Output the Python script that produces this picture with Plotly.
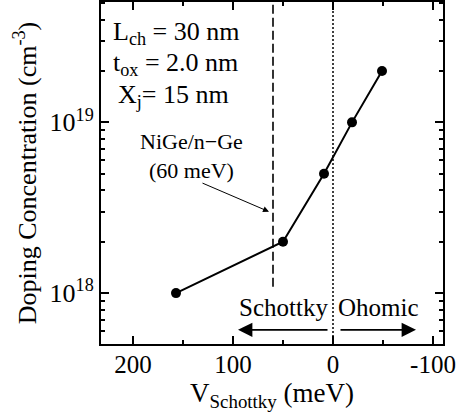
import numpy as np
import plotly.graph_objects as go

# ---- data ----
v_schottky = [157, 50, 9, -19, -49]           # meV
doping = [1e18, 2e18, 5e18, 1e19, 2e19]        # cm^-3
nige_barrier = 60                              # meV (dashed reference line)
nige_line_y = [1.09e18, 5.1e19]
ohmic_boundary = 0                             # meV (dotted line)
x_major_ticks = [200, 100, 0, -100]
x_minor_ticks = [150, 50, -50]
y_major_ticks = [1e18, 1e19]
y_major_text = ["10<sup>18</sup>", "10<sup>19</sup>"]
y_minor_ticks = [float(m) * 10.0**e for e in (17, 18, 19) for m in range(2, 10)]
param_lines = ["L<sub>ch</sub> = 30 nm", "t<sub>ox</sub> = 2.0 nm", "X<sub>j</sub>= 15 nm"]

FONT = "Liberation Serif"
fs = 25

fig = go.Figure()

# dashed NiGe line
fig.add_trace(go.Scatter(x=[nige_barrier, nige_barrier], y=nige_line_y, mode="lines",
                         line=dict(color="black", width=1.6, dash="9px,4px"),
                         showlegend=False, hoverinfo="skip"))
# dotted line at 0
fig.add_trace(go.Scatter(x=[ohmic_boundary, ohmic_boundary], y=[4e17, 6e19], mode="lines",
                         line=dict(color="black", width=1.5, dash="2px,2px"),
                         showlegend=False, hoverinfo="skip"))
# data
fig.add_trace(go.Scatter(x=v_schottky, y=doping, mode="lines+markers",
                         line=dict(color="black", width=2),
                         marker=dict(color="black", size=10),
                         showlegend=False))

ly = np.log10
annotations = []
for txt, xp, yp in zip(param_lines, [0.03, 0.03, 0.045], [0.909, 0.818, 0.725]):
    annotations.append(dict(x=xp, y=yp, xref="paper", yref="paper", xanchor="left",
                            yanchor="middle", showarrow=False, text=txt,
                            font=dict(family=FONT, size=26, color="black")))
annotations += [
    dict(x=142, y=18.805, xref="x", yref="y", showarrow=False,
         text="NiGe/n\u2212Ge<br>(60 meV)", font=dict(family=FONT, size=22, color="black")),
    # arrow to dashed line
    dict(x=64, y=18.477, ax=132, ay=18.648, xref="x", yref="y", axref="x", ayref="y",
         showarrow=True, arrowhead=2, arrowsize=1.2, arrowwidth=1, arrowcolor="black", text=""),
    # Schottky
    dict(x=50, y=17.914, xref="x", yref="y", showarrow=False, text="Schottky",
         font=dict(family=FONT, size=fs, color="black")),
    dict(x=95, y=17.785, ax=4, ay=17.785, xref="x", yref="y", axref="x", ayref="y",
         showarrow=True, arrowhead=2, arrowsize=1.6, arrowwidth=1.8, arrowcolor="black", text=""),
    # Ohomic
    dict(x=-45, y=17.914, xref="x", yref="y", showarrow=False, text="Ohomic",
         font=dict(family=FONT, size=fs, color="black")),
    dict(x=-83, y=17.785, ax=-6, ay=17.785, xref="x", yref="y", axref="x", ayref="y",
         showarrow=True, arrowhead=2, arrowsize=1.6, arrowwidth=1.8, arrowcolor="black", text=""),
]

fig.update_layout(
    width=464, height=419,
    margin=dict(l=101, r=21, t=2, b=75, autoexpand=False),
    plot_bgcolor="white", paper_bgcolor="white",
    font=dict(family=FONT, size=fs, color="black"),
    annotations=annotations,
    showlegend=False,
)
fig.update_xaxes(
    range=[232, -110], showgrid=False, zeroline=False, automargin=False,
    showline=True, linecolor="black", linewidth=2, mirror="allticks",
    ticks="inside", ticklen=8, tickwidth=1.5, tickcolor="black",
    tickmode="array", tickvals=x_major_ticks, ticktext=[str(v) for v in x_major_ticks],
    minor=dict(ticks="inside", ticklen=4, tickwidth=1.5, tickcolor="black",
               tickmode="array", tickvals=x_minor_ticks, showgrid=False),
    title=dict(text="V<sub>Schottky</sub> (meV)", font=dict(family=FONT, size=27), standoff=0),
    tickfont=dict(family=FONT, size=25),
    ticklabelstandoff=-3,
)
fig.update_yaxes(
    type="log", range=[17.702, 19.705], showgrid=False, zeroline=False, automargin=False,
    showline=True, linecolor="black", linewidth=2, mirror="allticks",
    ticks="inside", ticklen=8, tickwidth=1.5, tickcolor="black",
    tickmode="array", tickvals=y_major_ticks, ticktext=y_major_text,
    minor=dict(ticks="inside", ticklen=4, tickwidth=1.5, tickcolor="black",
               tickmode="array", tickvals=y_minor_ticks, showgrid=False),
    title=dict(text="Doping Concentration (cm<sup>-3</sup>)", font=dict(family=FONT, size=26), standoff=6),
    tickfont=dict(family=FONT, size=26),
)

fig.write_html("out.html", config={"displayModeBar": False},
               post_script="document.body.style.margin='0px';document.body.style.padding='0px';")
